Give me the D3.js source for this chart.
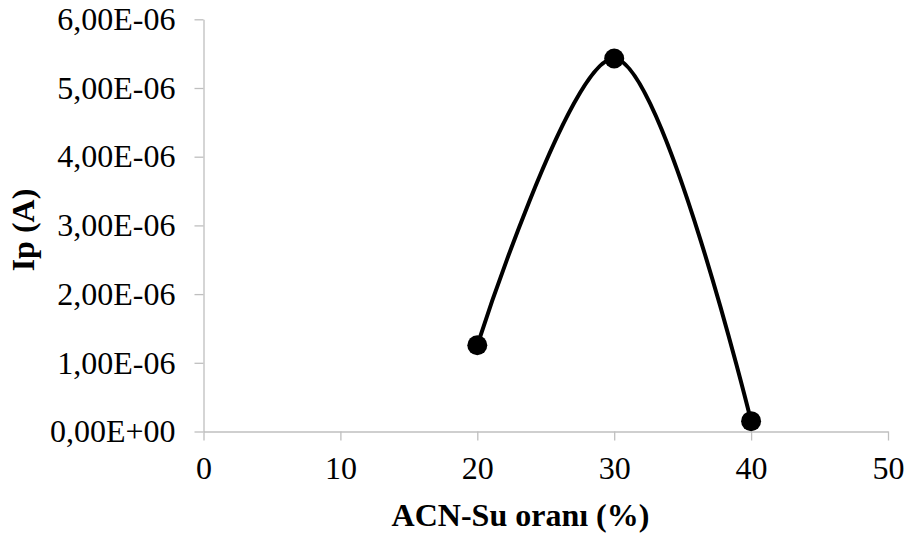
<!DOCTYPE html>
<html><head><meta charset="utf-8">
<script src="https://cdn.jsdelivr.net/npm/d3@7"></script>
<style>html,body{margin:0;padding:0;background:#fff;}</style>
</head><body>
<svg id="c" width="908" height="539"></svg>
<script>
const xValues = [20, 30, 40];
const yValues = [1.255e-6, 5.43e-6, 1.5e-7];
const xTicks = [0, 10, 20, 30, 40, 50];
const yTicks = [0, 1e-6, 2e-6, 3e-6, 4e-6, 5e-6, 6e-6];
const yTickLabels = ["0,00E+00","1,00E-06","2,00E-06","3,00E-06","4,00E-06","5,00E-06","6,00E-06"];
const xTitle = "ACN-Su oranı (%)";
const yTitle = "Ip (A)";

const svg = d3.select("#c");
const font = "'Liberation Serif','Times New Roman',serif";
const x = d3.scaleLinear().domain([0, 50]).range([203.5, 888]);
const y = d3.scaleLinear().domain([0, 6e-6]).range([431.5, 19.3]);
const axisColor = "#bfbfbf";

// X axis
const gx = svg.append("g").attr("transform", `translate(0,${y(0)})`)
  .call(d3.axisBottom(x).tickValues(xTicks).tickSize(9).tickPadding(16).tickSizeOuter(0).tickFormat(d3.format("d")));
gx.select(".domain").attr("stroke", axisColor).attr("stroke-width", 1.3);
gx.selectAll(".tick line").attr("stroke", axisColor).attr("stroke-width", 1.3);
gx.selectAll(".tick text").attr("font-family", font).attr("font-size", 32).attr("fill", "#000");

// Y axis
const gy = svg.append("g").attr("transform", `translate(${x(0)},0)`)
  .call(d3.axisLeft(y).tickValues(yTicks).tickSize(9).tickPadding(19).tickSizeOuter(0)
    .tickFormat((d, i) => yTickLabels[i]));
gy.select(".domain").attr("stroke", axisColor).attr("stroke-width", 1.3);
gy.selectAll(".tick line").attr("stroke", axisColor).attr("stroke-width", 1.3);
gy.selectAll(".tick text").attr("font-family", font).attr("font-size", 32).attr("fill", "#000");

// Line
const data = xValues.map((v, i) => [v, yValues[i]]);
svg.append("path").datum(data)
  .attr("d", d3.line().x(d => x(d[0])).y(d => y(d[1])).curve(d3.curveCatmullRom.alpha(0.5)))
  .attr("fill", "none").attr("stroke", "#000").attr("stroke-width", 4);

svg.selectAll("circle.pt").data(data).join("circle").attr("class", "pt")
  .attr("cx", d => x(d[0])).attr("cy", d => y(d[1])).attr("r", 10).attr("fill", "#000");

// Titles
svg.append("text").attr("x", 520.5).attr("y", 526).attr("text-anchor", "middle")
  .attr("font-family", font).attr("font-size", 32).attr("font-weight", "bold").text(xTitle);
svg.append("text").attr("transform", "translate(34,230) rotate(-90)").attr("text-anchor", "middle")
  .attr("font-family", font).attr("font-size", 32).attr("font-weight", "bold").text(yTitle);
</script>
</body></html>
